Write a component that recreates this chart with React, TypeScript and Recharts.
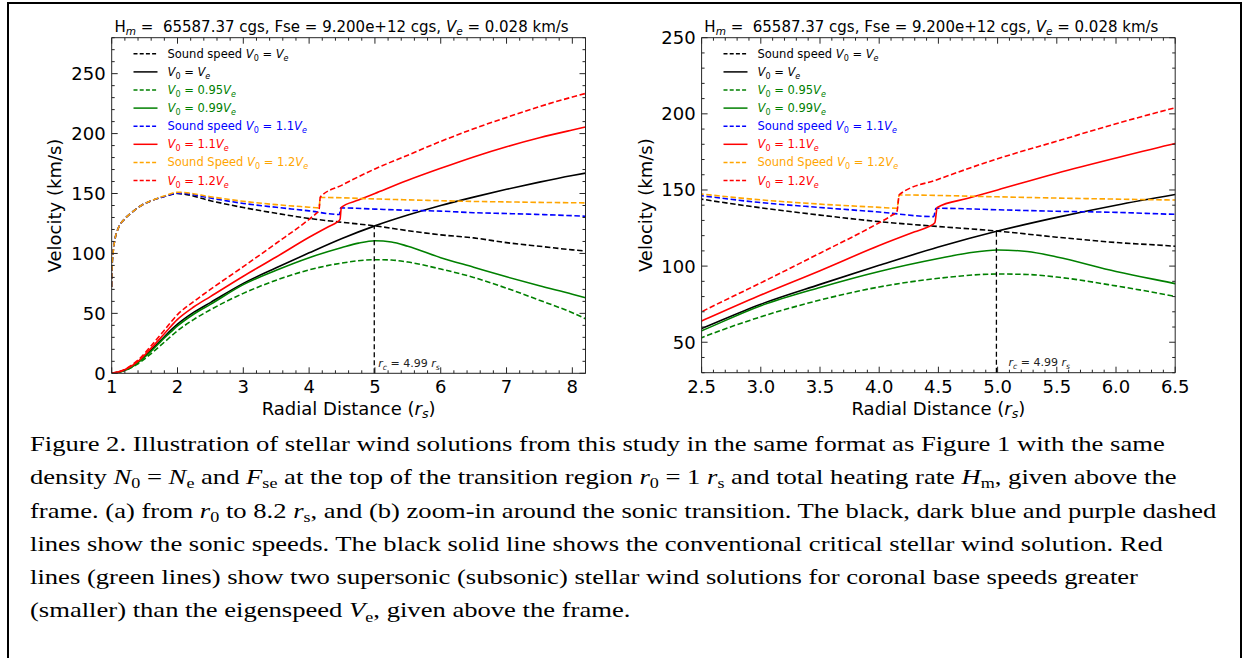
import React from 'react';
import { LineChart, Line, XAxis, YAxis, ReferenceLine, ReferenceDot, Legend } from 'recharts';

// ---------------- data ----------------
const HM_TEXT = '65587.37';
const FSE_TEXT = '9.200e+12';
const VE_TEXT = '0.028';
const RC = 4.99;
const VC = 123;

// sound speed, V0 = Ve
const R_CS_VE = [1.0, 1.005, 1.02, 1.05, 1.1, 1.2, 1.3, 1.45, 1.6, 1.8, 2.0, 2.1, 2.5, 3.0, 3.5, 4.0, 4.5, 5.0, 5.5, 6.0, 6.5, 7.0, 7.5, 8.0, 8.2];
const V_CS_VE = [72, 88, 100, 112, 121, 129, 134, 140, 144, 147.5, 150, 149.5, 144, 138.3, 133.5, 129.2, 126, 123, 119, 115.5, 113, 109, 106, 103, 102];
// V0 = Ve
const R_VE = [1.0, 1.1, 1.2, 1.3, 1.4, 1.5, 1.6, 1.7, 1.8, 1.9, 2.0, 2.25, 2.5, 3.0, 3.5, 4.0, 4.5, 5.0, 5.5, 6.0, 6.5, 7.0, 7.5, 8.0, 8.2];
const V_VE = [0, 0.8, 2.8, 5.5, 9.5, 14, 19.5, 25, 30.5, 36, 41, 51, 59, 75, 88, 100.5, 112.5, 123, 132, 140, 147, 153.5, 159.5, 165, 167];
// V0 = 0.95 Ve
const R_V095 = [1.0, 1.2, 1.4, 1.6, 1.8, 2.0, 2.25, 2.5, 3.0, 3.5, 4.0, 4.5, 5.0, 5.25, 5.5, 6.0, 6.5, 7.0, 7.5, 8.0, 8.2];
const V_V095 = [0, 2.3, 8, 16.5, 26, 35.5, 45, 53, 66.7, 77.7, 86.3, 92, 94.8, 94.5, 92.8, 87, 80, 71, 61, 50.5, 45.5];
// V0 = 0.99 Ve
const R_V099 = [1.0, 1.1, 1.2, 1.3, 1.4, 1.5, 1.6, 1.7, 1.8, 1.9, 2.0, 2.25, 2.5, 3.0, 3.5, 4.0, 4.5, 4.75, 5.0, 5.25, 5.5, 6.0, 6.5, 7.0, 7.5, 8.0, 8.2];
const V_V099 = [0, 0.7, 2.5, 5, 9, 13.5, 18.5, 24, 29.5, 34.5, 39.5, 49.5, 57.5, 74, 86, 96.5, 105, 108.6, 110.6, 109.6, 106, 96.5, 88.5, 80.5, 73, 66, 63];
// sound speed, V0 = 1.1 Ve
const R_CS_11 = [1.0, 1.005, 1.02, 1.05, 1.1, 1.2, 1.3, 1.45, 1.6, 1.8, 2.0, 2.1, 2.5, 3.0, 3.5, 4.0, 4.46, 4.48, 5.0, 5.5, 6.0, 6.5, 7.0, 7.5, 8.0, 8.2];
const V_CS_11 = [72, 88, 100, 112, 121, 129, 134, 140, 144, 147.5, 150.2, 150, 146.2, 141.7, 138.5, 135.5, 132.5, 138, 137, 136, 135.3, 134, 133.3, 132.5, 131.5, 131];
// V0 = 1.1 Ve
const R_V11 = [1.0, 1.2, 1.4, 1.6, 1.8, 2.0, 2.25, 2.5, 3.0, 3.5, 4.0, 4.3, 4.42, 4.47, 4.49, 4.75, 5.0, 5.5, 6.0, 6.5, 7.0, 7.5, 8.0, 8.2];
const V_V11 = [0, 3, 10, 21, 33, 45, 55.5, 64, 81, 97, 113.5, 122.5, 126, 128.5, 138.5, 144.5, 150, 161, 171, 180.5, 189, 196.5, 203, 205.5];
// sound speed, V0 = 1.2 Ve
const R_CS_12 = [1.0, 1.005, 1.02, 1.05, 1.1, 1.2, 1.3, 1.45, 1.6, 1.8, 2.0, 2.1, 2.5, 3.0, 3.5, 4.0, 4.15, 4.17, 5.0, 5.5, 6.0, 6.5, 7.0, 7.5, 8.0, 8.2];
const V_CS_12 = [72, 88, 100, 112, 121, 129, 134, 140, 144, 148, 151, 150.8, 147.3, 143.5, 140.7, 138.6, 138, 146.7, 145.5, 144.7, 144, 143.4, 143, 142.6, 142.3, 142.2];
// V0 = 1.2 Ve
const R_V12 = [1.0, 1.2, 1.4, 1.6, 1.8, 2.0, 2.25, 2.5, 3.0, 3.5, 4.0, 4.1, 4.15, 4.17, 4.5, 5.0, 5.5, 6.0, 6.5, 7.0, 7.5, 8.0, 8.2];
const V_V12 = [0, 3.3, 11, 23, 36, 49, 60, 70, 89, 108.5, 128.5, 133, 136, 147, 157, 170.5, 182, 193.5, 204, 213.5, 222.5, 230.5, 233.5];

// legend texts
const LEGEND_PREFIX = ['Sound speed ', '', '', '', 'Sound speed ', '', 'Sound Speed ', ''];
const LEGEND_COEF = ['', '', '0.95', '0.99', '1.1', '1.1', '1.2', '1.2'];

// ticks
const X_MAJOR_A = [1, 2, 3, 4, 5, 6, 7, 8];
const Y_MAJOR_A = [0, 50, 100, 150, 200, 250];
const X_MAJOR_B = [2.5, 3.0, 3.5, 4.0, 4.5, 5.0, 5.5, 6.0, 6.5];
const Y_MAJOR_B = [50, 100, 150, 200, 250];

// ---------------- styling ----------------
const FONT = '"DejaVu Sans", Verdana, sans-serif';
const AXIS = '#262626';
const GREEN = '#008000';
const BLUE = '#0000ff';
const RED = '#ff0000';
const ORANGE = '#ffa500';
const DASH = '5.5 2.6';

const zip = (r: number[], v: number[]) => r.map((x, i) => ({ r: x, v: v[i] }));
const range = (a: number, b: number, step: number) => {
  const out: number[] = [];
  const n = Math.round((b - a) / step);
  for (let i = 0; i <= n; i++) out.push(+(a + i * step).toFixed(4));
  return out;
};
const isIn = (v: number, arr: number[]) => arr.some((m) => Math.abs(m - v) < 1e-6);

const SERIES = [
  { key: 'cs_ve', r: R_CS_VE, v: V_CS_VE, color: '#000000', dashed: true },
  { key: 've', r: R_VE, v: V_VE, color: '#000000', dashed: false },
  { key: 'v095', r: R_V095, v: V_V095, color: GREEN, dashed: true },
  { key: 'v099', r: R_V099, v: V_V099, color: GREEN, dashed: false },
  { key: 'cs_11', r: R_CS_11, v: V_CS_11, color: BLUE, dashed: true },
  { key: 'v11', r: R_V11, v: V_V11, color: RED, dashed: false },
  { key: 'cs_12', r: R_CS_12, v: V_CS_12, color: ORANGE, dashed: true },
  { key: 'v12', r: R_V12, v: V_V12, color: RED, dashed: true },
];

type PanelCfg = {
  width: number;
  height: number;
  top: number;
  right: number;
  yWidth: number;
  xHeight: number;
  xDomain: number[];
  yDomain: number[];
  xMajor: number[];
  xMinor: number[];
  yMajor: number[];
  yMinor: number[];
  xFmt: (v: number) => string;
  yLabelX: number;
  rcOffset: number;
};

const mkTick = (side: string, majors: number[], fmt?: (v: number) => string) => (props: any) => {
  const { x, y, payload } = props;
  const val = payload.value;
  const major = isIn(val, majors);
  const len = major ? 6 : 3;
  let line;
  let label = null;
  if (side === 'bottom') {
    line = <line x1={x} x2={x} y1={y} y2={y - len} stroke={AXIS} strokeWidth={1} />;
    if (major && fmt)
      label = (
        <text x={x} y={y + 20} textAnchor="middle" fontSize={18} fontFamily={FONT} fill="#000">
          {fmt(val)}
        </text>
      );
  } else if (side === 'top') {
    line = <line x1={x} x2={x} y1={y} y2={y + len} stroke={AXIS} strokeWidth={1} />;
  } else if (side === 'left') {
    line = <line x1={x} x2={x + len} y1={y} y2={y} stroke={AXIS} strokeWidth={1} />;
    if (major && fmt)
      label = (
        <text x={x - 6} y={y + 6.5} textAnchor="end" fontSize={18} fontFamily={FONT} fill="#000">
          {fmt(val)}
        </text>
      );
  } else {
    line = <line x1={x} x2={x - len} y1={y} y2={y} stroke={AXIS} strokeWidth={1} />;
  }
  return (
    <g>
      {line}
      {label}
    </g>
  );
};

// subscript followed by a return to the baseline (next tspan carries dy=-3)
const sub = (txt: string, italic: boolean, key: string) => (
  <tspan key={key} dy={3} fontSize="0.7em" fontStyle={italic ? 'italic' : 'normal'}>
    {txt}
  </tspan>
);

const legendContent = () => (
  <svg width={230} height={175} style={{ display: 'block', overflow: 'visible' }}>
    {SERIES.map((s, i) => {
      const cy = 15.8 + i * 18.1;
      return (
        <g key={s.key}>
          <line x1={21.5} x2={45.5} y1={cy} y2={cy} stroke={s.color} strokeWidth={1.5} strokeDasharray={s.dashed ? '4 2.2' : undefined} />
          <text x={55.5} y={cy + 4} fontSize={11.5} fontFamily={FONT} fill={s.color} style={{ whiteSpace: 'pre' }}>
            {LEGEND_PREFIX[i]}
            <tspan fontStyle="italic">V</tspan>
            {sub('0', false, 'a')}
            <tspan dy={-3}>{' = ' + LEGEND_COEF[i]}</tspan>
            <tspan fontStyle="italic">V</tspan>
            {sub('e', true, 'b')}
          </text>
        </g>
      );
    })}
  </svg>
);

function Panel({ cfg }: { cfg: PanelCfg }) {
  const plotLeft = cfg.yWidth;
  const plotTop = cfg.top;
  const titleFn = (p: any) => {
    const vb = p.viewBox;
    return (
      <text x={vb.x + vb.width / 2 - 7} y={vb.y + vb.height - 6} textAnchor="middle" fontSize={15} fontFamily={FONT} fill="#000" style={{ whiteSpace: 'pre' }}>
        H{sub('m', true, 'm')}
        <tspan dy={-3}>{` =  ${HM_TEXT} cgs, Fse = ${FSE_TEXT} cgs, `}</tspan>
        <tspan fontStyle="italic">V</tspan>
        {sub('e', true, 'e')}
        <tspan dy={-3}>{` = ${VE_TEXT} km/s`}</tspan>
      </text>
    );
  };
  const yLabelFn = (p: any) => {
    const vb = p.viewBox;
    const cx = cfg.yLabelX;
    const cy = vb.y + vb.height / 2;
    return (
      <text x={cx} y={cy} transform={`rotate(-90 ${cx} ${cy})`} textAnchor="middle" dy="0.35em" fontSize={18} fontFamily={FONT} fill="#000">
        Velocity (km/s)
      </text>
    );
  };
  const xLabelFn = (p: any) => {
    const vb = p.viewBox;
    return (
      <text x={vb.x + vb.width / 2} y={vb.y + 42} textAnchor="middle" fontSize={18} fontFamily={FONT} fill="#000">
        Radial Distance (<tspan fontStyle="italic">r</tspan>
        {sub('s', true, 's')}
        <tspan dy={-3}>)</tspan>
      </text>
    );
  };
  const rcLabelFn = (p: any) => {
    const vb = p.viewBox;
    return (
      <text x={vb.x + cfg.rcOffset} y={vb.y - 6.5} fontSize={11} fontFamily={FONT} fill="#222" style={{ whiteSpace: 'pre' }}>
        <tspan fontStyle="italic">r</tspan>
        {sub('c', true, 'c')}
        <tspan dy={-3}>{` = ${RC.toFixed(2)} `}</tspan>
        <tspan fontStyle="italic">r</tspan>
        {sub('s', true, 's')}
      </text>
    );
  };
  const xTicks = [...cfg.xMinor];
  const yTicks = [...cfg.yMinor];
  return (
    <LineChart
      width={cfg.width}
      height={cfg.height}
      margin={{ top: cfg.top - 1, right: cfg.right - 1, bottom: 0, left: 0 }}
      style={{ background: 'transparent' }}
    >
      <XAxis
        dataKey="r"
        type="number"
        domain={cfg.xDomain}
        allowDataOverflow
        ticks={xTicks}
        interval={0}
        tickSize={0}
        tickMargin={0}
        tickLine={false}
        axisLine={{ stroke: AXIS, strokeWidth: 1 }}
        tick={mkTick('bottom', cfg.xMajor, cfg.xFmt)}
        height={cfg.xHeight}
        label={xLabelFn}
      />
      <XAxis
        xAxisId="top"
        orientation="top"
        dataKey="r"
        type="number"
        domain={cfg.xDomain}
        allowDataOverflow
        ticks={xTicks}
        interval={0}
        tickSize={0}
        tickMargin={0}
        tickLine={false}
        axisLine={{ stroke: AXIS, strokeWidth: 1 }}
        tick={mkTick('top', cfg.xMajor)}
        height={1}
        label={titleFn}
      />
      <YAxis
        type="number"
        domain={cfg.yDomain}
        allowDataOverflow
        ticks={yTicks}
        interval={0}
        tickSize={0}
        tickMargin={0}
        tickLine={false}
        axisLine={{ stroke: AXIS, strokeWidth: 1 }}
        tick={mkTick('left', cfg.yMajor, (v) => String(v))}
        width={cfg.yWidth}
        label={yLabelFn}
      />
      <YAxis
        yAxisId="right"
        orientation="right"
        type="number"
        domain={cfg.yDomain}
        allowDataOverflow
        ticks={yTicks}
        interval={0}
        tickSize={0}
        tickMargin={0}
        tickLine={false}
        axisLine={{ stroke: AXIS, strokeWidth: 1 }}
        tick={mkTick('right', cfg.yMajor)}
        width={1}
      />
      {SERIES.map((s) => (
        <Line
          key={s.key}
          name={s.key}
          data={zip(s.r, s.v)}
          dataKey="v"
          type="monotone"
          stroke={s.color}
          strokeWidth={1.6}
          strokeDasharray={s.dashed ? DASH : undefined}
          dot={false}
          activeDot={false}
          isAnimationActive={false}
        />
      ))}
      <ReferenceLine
        segment={[
          { x: RC, y: cfg.yDomain[0] },
          { x: RC, y: VC },
        ]}
        stroke="#000"
        strokeWidth={1.3}
        strokeDasharray="5 3"
      />
      <ReferenceDot x={RC} y={cfg.yDomain[0]} r={0} fill="none" stroke="none" label={rcLabelFn} />
      <Legend
        layout="vertical"
        align="center"
        verticalAlign="middle"
        content={legendContent}
        wrapperStyle={{ position: 'absolute', left: plotLeft, top: plotTop, width: 230, height: 175 }}
      />
    </LineChart>
  );
}

const PANEL_A: PanelCfg = {
  width: 620,
  height: 420,
  top: 37.7,
  right: 34.5,
  yWidth: 111.7,
  xHeight: 46.7,
  xDomain: [1, 8.2],
  yDomain: [0, 280],
  xMajor: X_MAJOR_A,
  xMinor: range(1, 8.2, 0.2),
  yMajor: Y_MAJOR_A,
  yMinor: range(0, 280, 10),
  xFmt: (v) => String(v),
  yLabelX: 55,
  rcOffset: 4,
};

const PANEL_B: PanelCfg = {
  width: 626,
  height: 420,
  top: 37.7,
  right: 70.8,
  yWidth: 81.6,
  xHeight: 47.3,
  xDomain: [2.5, 6.5],
  yDomain: [30, 250],
  xMajor: X_MAJOR_B,
  xMinor: range(2.5, 6.5, 0.1),
  yMajor: Y_MAJOR_B,
  yMinor: range(30, 250, 10),
  xFmt: (v) => v.toFixed(1),
  yLabelX: 26,
  rcOffset: 12,
};

const subStyle: React.CSSProperties = { fontSize: '0.68em', verticalAlign: 'baseline', position: 'relative', top: '0.28em' };
const I = ({ children }: any) => <span style={{ fontStyle: 'italic' }}>{children}</span>;
const S = ({ children }: any) => <span style={subStyle}>{children}</span>;

const lineStyle: React.CSSProperties = { height: 33.3, lineHeight: '33.3px', whiteSpace: 'nowrap' };

export default function App() {
  return (
    <div style={{ position: 'absolute', left: 0, top: 0, width: 1246, height: 658, background: '#fff', overflow: 'hidden' }}>
      <div style={{ position: 'absolute', left: 7, top: 2, width: 1235, height: 720, border: '2px solid #000', boxSizing: 'border-box' }} />
      <div style={{ position: 'absolute', left: 0, top: 0 }}>
        <Panel cfg={PANEL_A} />
      </div>
      <div style={{ position: 'absolute', left: 620, top: 0 }}>
        <Panel cfg={PANEL_B} />
      </div>
      <div
        style={{
          position: 'absolute',
          left: 30,
          top: 427,
          fontFamily: '"Liberation Serif", "Times New Roman", serif',
          fontSize: 22,
          color: '#000',
          transform: 'scaleX(1.209)',
          transformOrigin: '0 0',
        }}
      >
        <div style={lineStyle}>Figure 2. Illustration of stellar wind solutions from this study in the same format as Figure 1 with the same</div>
        <div style={lineStyle}>
          density <I>N</I>
          <S>0</S> = <I>N</I>
          <S>e</S> and <I>F</I>
          <S>se</S> at the top of the transition region <I>r</I>
          <S>0</S> = 1 <I>r</I>
          <S>s</S> and total heating rate <I>H</I>
          <S>m</S>, given above the
        </div>
        <div style={lineStyle}>
          frame. (a) from <I>r</I>
          <S>0</S> to 8.2 <I>r</I>
          <S>s</S>, and (b) zoom-in around the sonic transition. The black, dark blue and purple dashed
        </div>
        <div style={lineStyle}>lines show the sonic speeds. The black solid line shows the conventional critical stellar wind solution. Red</div>
        <div style={lineStyle}>lines (green lines) show two supersonic (subsonic) stellar wind solutions for coronal base speeds greater</div>
        <div style={lineStyle}>
          (smaller) than the eigenspeed <I>V</I>
          <S>e</S>, given above the frame.
        </div>
      </div>
    </div>
  );
}
